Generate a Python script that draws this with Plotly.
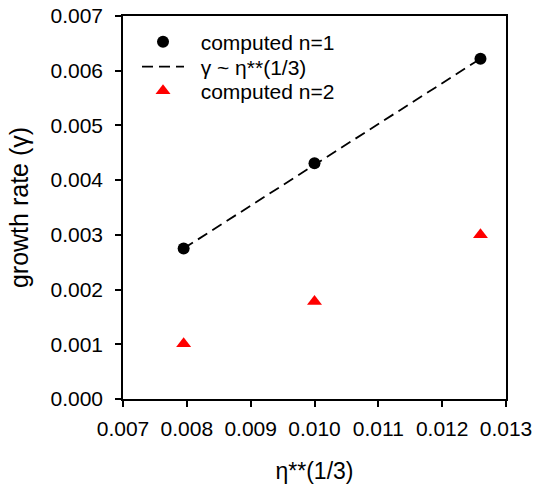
import plotly.graph_objects as go

eta = [0.00795, 0.0100, 0.0126]
gamma_n1 = [0.00275, 0.00431, 0.00622]
gamma_fit = [0.00275, 0.00428, 0.00622]
gamma_n2 = [0.00101, 0.00178, 0.00300]

x_ticks = [0.007, 0.008, 0.009, 0.010, 0.011, 0.012, 0.013]
y_ticks = [0.000, 0.001, 0.002, 0.003, 0.004, 0.005, 0.006, 0.007]

FONT = "Liberation Sans, Arial, sans-serif"
PAD = "\u00a0\u00a0"

fig = go.Figure()
fig.add_trace(go.Scatter(x=eta, y=gamma_n1, mode="markers", name=PAD + "computed n=1",
                         legend="legend",
                         marker=dict(symbol="circle", size=12, color="black")))
fig.add_trace(go.Scatter(x=eta, y=gamma_fit, mode="lines", name=PAD + "γ ~ η**(1/3)",
                         legend="legend2",
                         line=dict(color="black", width=1.8, dash="11px,6px")))
fig.add_trace(go.Scatter(x=eta, y=gamma_n2, mode="markers", name=PAD + "computed n=2",
                         legend="legend3",
                         marker=dict(symbol="triangle-up", size=13, color="#ff0000")))

axis_common = dict(showline=True, linecolor="black", linewidth=1.5, mirror=True,
                   ticks="outside", ticklen=6, tickwidth=1.5, tickcolor="black",
                   showgrid=False, zeroline=False, automargin=False,
                   tickfont=dict(family=FONT, size=21, color="black"))

leg_common = dict(x=0.0366, xanchor="left", yanchor="middle",
                  bgcolor="rgba(0,0,0,0)", font=dict(family=FONT, size=21, color="black"),
                  itemwidth=42)

fig.update_layout(
    width=535, height=485,
    margin=dict(l=123, r=29, t=16, b=86),
    paper_bgcolor="white", plot_bgcolor="white",
    showlegend=True,
    legend=dict(y=0.932, **leg_common),
    legend2=dict(y=0.867, **leg_common),
    legend3=dict(y=0.804, **leg_common),
    xaxis=dict(range=[0.007, 0.013], tickvals=x_ticks, tickformat=".3f",
               title=dict(text="η**(1/3)", font=dict(family=FONT, size=23, color="black"), standoff=24),
               ticklabelstandoff=4, **axis_common),
    yaxis=dict(range=[0.0, 0.007], tickvals=y_ticks, tickformat=".3f",
               title=dict(text="growth rate (γ)", font=dict(family=FONT, size=25, color="black"), standoff=15),
               ticklabelstandoff=8, **axis_common),
)

fig.write_html("out.html")
